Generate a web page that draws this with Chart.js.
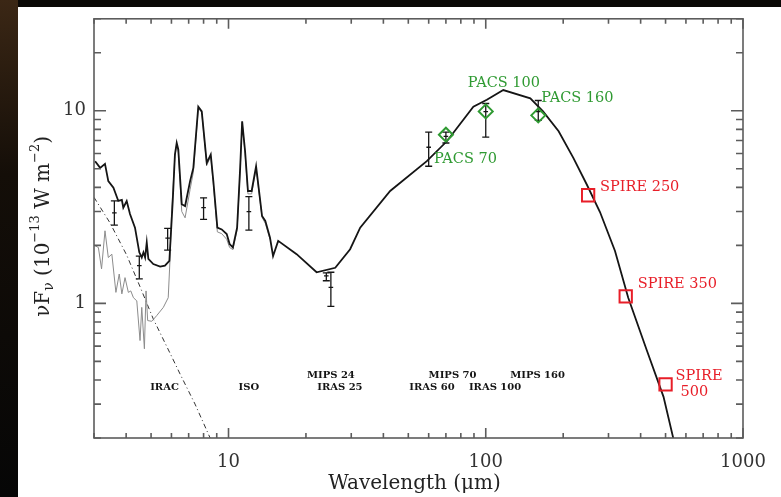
<!DOCTYPE html>
<html><head><meta charset="utf-8">
<script src="https://cdn.jsdelivr.net/npm/chart.js@4/dist/chart.umd.min.js"></script>
<style>html,body{margin:0;padding:0;background:#0b0906;}canvas{display:block}</style>
</head><body>
<canvas id="c" width="781" height="497"></canvas>
<script>
// ---- model SED (black line) ----
const sedWave = [3.03,3.17,3.31,3.41,3.57,3.73,3.85,3.90,4.02,4.14,4.33,4.50,4.60,4.67,4.74,4.81,4.88,5.10,5.42,5.66,5.89,6.07,6.19,6.29,6.38,6.58,6.78,7.09,7.30,7.63,7.87,8.23,8.53,8.73,9.05,9.41,9.84,10.1,10.4,10.8,11.1,11.3,11.6,11.9,12.3,12.8,13.1,13.5,13.9,14.5,14.9,15.6,18.4,22.0,26.0,29.7,32.5,42.5,59.0,70.6,89.5,101,117,149,167,192,219,247,278,318,358,423,491,536];
const sedFlux = [5.47,5.05,5.30,4.31,3.98,3.40,3.44,3.14,3.40,2.91,2.47,1.84,1.73,1.84,1.73,2.07,1.70,1.60,1.55,1.57,1.66,3.40,5.92,6.80,6.29,3.27,3.20,4.31,5.05,10.5,9.92,5.36,5.92,4.31,2.47,2.42,2.29,2.03,1.95,2.47,5.05,8.80,6.16,3.83,3.83,5.15,3.98,2.84,2.68,2.19,1.76,2.11,1.80,1.45,1.53,1.91,2.47,3.83,5.47,6.94,10.5,11.4,12.8,11.6,9.92,7.82,5.69,4.14,2.98,1.87,1.07,0.569,0.327,0.199];
// ---- spectrum (grey line) ----
const irsWave = [3.03,3.12,3.21,3.31,3.41,3.52,3.65,3.76,3.85,3.96,4.08,4.17,4.27,4.40,4.53,4.60,4.71,4.78,4.85,5.03,5.26,5.58,5.83,5.92,6.01,6.19,6.29,6.38,6.58,6.78,7.09,7.30,7.63,7.87,8.23,8.53,8.73,9.05,9.41,9.84,10.1,10.4,10.8,11.1,11.3,11.6,11.9,12.3,12.8,13.1,13.5,13.9,14.5];
const irsFlux = [1.99,1.95,1.51,2.38,1.73,1.80,1.14,1.42,1.12,1.36,1.14,1.16,1.07,1.03,0.641,0.953,0.581,1.16,0.814,0.807,0.864,0.953,1.07,1.66,3.02,5.80,6.70,6.10,3.00,2.78,3.90,4.80,10.3,9.80,5.20,5.80,4.20,2.35,2.30,2.15,1.95,1.90,2.40,4.90,8.70,6.00,3.70,3.70,5.00,3.90,2.80,2.60,2.15];
// ---- stellar photosphere (dash-dot) ----
const starWave = [3.0,3.46,4.02,4.53,5.10,6.01,6.48,7.41,8.63];
const starFlux = [3.55,2.62,1.78,1.22,0.83,0.53,0.43,0.30,0.19];
// ---- photometry with error bars ----
const photWave = [3.6,4.5,5.8,8.0,12.0,24,25,60,70,100,160];
const photFlux = [2.95,1.57,2.18,3.14,2.99,1.39,1.21,6.46,7.36,9.9,9.9];
const photLow  = [2.55,1.34,1.89,2.73,2.40,1.31,0.965,5.15,6.80,7.30,8.9];
const photHigh = [3.40,1.76,2.45,3.53,3.58,1.44,1.45,7.75,7.75,10.9,11.3];
// ---- Herschel points ----
const pacsWave = [70,100,160];
const pacsFlux = [7.51,9.92,9.46];
const pacsNames = ['PACS 70','PACS 100','PACS 160'];
const spireWave = [250,350,500];
const spireFlux = [3.64,1.087,0.380];
const spireNames = ['SPIRE 250','SPIRE 350','SPIRE\n500'];
// ---- band labels ----
const bandNames = ['IRAC','ISO','MIPS 24','IRAS 25','MIPS 70','IRAS 60','IRAS 100','MIPS 160'];
const bandWave  = [5.64,12.0,25.0,27.1,74.3,61.8,108.7,159];
const bandRow   = [1,1,0,1,0,1,1,0];
// ---- axes ----
const xTicks = [3,4,5,6,7,8,9,10,20,30,40,50,60,70,80,90,100,200,300,400,500,600,700,800,900,1000];
const xLabels = [10,100,1000];
const yTicks = [0.2,0.3,0.4,0.5,0.6,0.7,0.8,0.9,1,2,3,4,5,6,7,8,9,10,20,30];
const yLabels = [1,10];

const GREEN = '#2f9a32', RED = '#e81e28', INK = '#151515';
const SERIF = '"DejaVu Serif", "Liberation Serif", serif';

const pts = (w,f) => w.map((v,i)=>({x:v,y:f[i]}));
const errData = [];
photWave.forEach((w,i)=>{
  errData.push({x:w,y:photLow[i]},{x:w,y:photFlux[i],m:1},{x:w,y:photHigh[i]},{x:w,y:null});
});

const bgPlugin = {
  id:'bg',
  beforeDraw(chart){
    const ctx = chart.ctx, W = chart.width, H = chart.height;
    ctx.save();
    ctx.fillStyle = '#0a0806'; ctx.fillRect(0,0,W,H);
    const g = ctx.createLinearGradient(0,0,0,H);
    g.addColorStop(0,'#3b2715'); g.addColorStop(0.35,'#140e08'); g.addColorStop(1,'#060606');
    ctx.fillStyle = g; ctx.fillRect(0,0,18,H);
    ctx.fillStyle = '#ffffff'; ctx.fillRect(18,7,W-18,H-7);
    ctx.restore();
  }
};

const framePlugin = {
  id:'frame',
  afterDraw(chart){
    const {ctx, chartArea:a, scales:{x,y}} = chart;
    ctx.save();
    ctx.strokeStyle = '#5c5c5c'; ctx.lineWidth = 1.6;
    ctx.strokeRect(a.left,a.top,a.right-a.left,a.bottom-a.top);
    ctx.beginPath();
    xTicks.forEach(v=>{
      const p = x.getPixelForValue(v), L = xLabels.includes(v) ? 10 : 5;
      ctx.moveTo(p,a.bottom); ctx.lineTo(p,a.bottom-L);
      ctx.moveTo(p,a.top); ctx.lineTo(p,a.top+L);
    });
    yTicks.forEach(v=>{
      const p = y.getPixelForValue(v), L = yLabels.includes(v) ? 12 : 7;
      ctx.moveTo(a.left,p); ctx.lineTo(a.left+L,p);
      ctx.moveTo(a.right,p); ctx.lineTo(a.right-L,p);
    });
    ctx.stroke();
    ctx.restore();
  }
};

const textPlugin = {
  id:'texts',
  afterDraw(chart, args, opts){
    const {ctx, chartArea:a, scales:{x,y}} = chart;
    ctx.save();
    ctx.textBaseline = 'middle';
    // band labels
    ctx.font = 'bold 10px ' + SERIF; ctx.fillStyle = INK; ctx.textAlign = 'center';
    bandNames.forEach((n,i)=>{
      ctx.fillText(n, x.getPixelForValue(bandWave[i]), y.getPixelForValue(opts.rowLevel[bandRow[i]]));
    });
    // marker labels
    ctx.textAlign = 'left'; ctx.font = '14.5px ' + SERIF;
    const lab = (names, wv, fl, offs, col) => {
      ctx.fillStyle = col;
      names.forEach((n,i)=>{
        const px = x.getPixelForValue(wv[i]), py = y.getPixelForValue(fl[i]);
        n.split('\n').forEach((line,j)=>{
          const o = offs[i][j];
          ctx.fillText(line, px+o[0], py+o[1]);
        });
      });
    };
    lab(pacsNames, pacsWave, pacsFlux, opts.pacsOff, GREEN);
    lab(spireNames, spireWave, spireFlux, opts.spireOff, RED);
    // x title
    ctx.fillStyle = '#222'; ctx.textAlign = 'center';
    ctx.font = '20px ' + SERIF;
    ctx.fillText('Wavelength (\u03bcm)', (a.left+a.right)/2 - 4, 484);
    // y title with sub/superscripts
    const segs = [['\u03bdF',20,0],['\u03bd',14,5],[' (10',20,0],['\u221213',13,-8],[' W m',20,0],['\u22122',13,-8],[')',20,0]];
    let total = 0;
    segs.forEach(s=>{ctx.font = s[1]+'px '+SERIF; total += ctx.measureText(s[0]).width;});
    ctx.translate(44,(a.top+a.bottom)/2 - 2);
    ctx.rotate(-Math.PI/2);
    ctx.textAlign = 'left';
    let cx = -total/2;
    segs.forEach(s=>{
      ctx.font = s[1]+'px '+SERIF;
      ctx.fillText(s[0], cx, s[2]);
      cx += ctx.measureText(s[0]).width;
    });
    ctx.restore();
  }
};

new Chart(document.getElementById('c'), {
  type:'scatter',
  data:{datasets:[
    {label:'PACS', data:pts(pacsWave,pacsFlux), pointStyle:'rectRot', pointRadius:7, borderColor:GREEN, backgroundColor:'rgba(0,0,0,0)', borderWidth:2, showLine:false},
    {label:'SPIRE', data:pts(spireWave,spireFlux), pointStyle:'rect', pointRadius:8.7, borderColor:RED, backgroundColor:'rgba(0,0,0,0)', borderWidth:2, showLine:false},
    {label:'phot', data:errData, showLine:true, spanGaps:false, borderColor:INK, borderWidth:1.3, pointStyle:'line', pointRadius:c=>(c.raw && c.raw.m)?2.3:3.5, pointBorderColor:INK, pointBorderWidth:1.3, backgroundColor:INK},
    {label:'model', data:pts(sedWave,sedFlux), showLine:true, borderColor:INK, borderWidth:1.8, pointRadius:0, tension:0},
    {label:'spectrum', data:pts(irsWave,irsFlux), showLine:true, borderColor:'#8c8c8c', borderWidth:1, pointRadius:0, tension:0},
    {label:'star', data:pts(starWave,starFlux), showLine:true, borderColor:'#333', borderWidth:1, borderDash:[5,3,1,3], pointRadius:0, tension:0}
  ]},
  options:{
    responsive:false, animation:false, events:[],
    layout:{padding:{left:0,right:38,top:17,bottom:0}},
    plugins:{
      legend:{display:false}, tooltip:{enabled:false},
      texts:{
        rowLevel:[0.424,0.364],
        pacsOff:[[[-12,25]],[[-18,-28]],[[3,-17]]],
        spireOff:[[[12,-8.5]],[[12,-12]],[[10,-8],[15,8]]]
      }
    },
    scales:{
      x:{type:'logarithmic', min:3, max:1000,
         afterFit(s){s.height=59;},
         afterBuildTicks(s){s.ticks = xTicks.map(v=>({value:v}));},
         grid:{display:false, drawTicks:false}, border:{display:false},
         ticks:{autoSkip:false, maxRotation:0, minRotation:0, padding:14, color:'#333', font:{family:SERIF, size:18},
                callback:v=> xLabels.includes(v) ? String(v) : ''}},
      y:{type:'logarithmic', min:0.2, max:30,
         afterFit(s){s.width=94;},
         afterBuildTicks(s){s.ticks = yTicks.map(v=>({value:v}));},
         grid:{display:false, drawTicks:false}, border:{display:false},
         ticks:{autoSkip:false, padding:8, color:'#333', font:{family:SERIF, size:18},
                callback:v=> yLabels.includes(v) ? String(v) : ''}}
    }
  },
  plugins:[bgPlugin, framePlugin, textPlugin]
});
</script>
</body></html>
